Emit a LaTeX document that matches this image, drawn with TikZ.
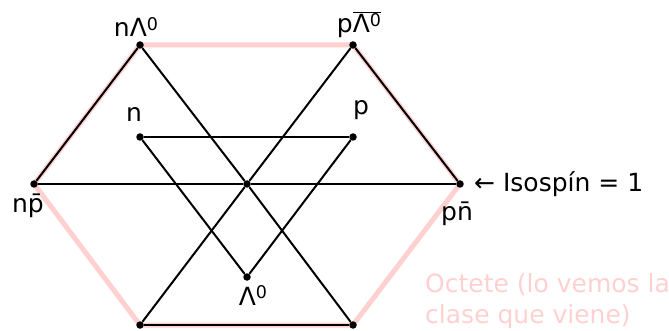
\documentclass[tikz,border=0pt]{standalone}
\usepackage{fontspec}
\setmainfont{DejaVu Sans}
\usepackage{xcolor}
\usepackage{tikz}
\usetikzlibrary{backgrounds}
\definecolor{octpink}{RGB}{255,208,208}
\tikzset{dot/.style={circle,fill=black,inner sep=0pt,minimum size=7.5pt},
  enlace/.style={black,line width=2pt},
  lbl/.style={inner sep=0pt,anchor=base}}
\newcommand{\supcero}{\raisebox{6.5pt}{\fontsize{17.5}{17.5}\selectfont 0}}

\begin{document}
\begin{tikzpicture}[x=1pt,y=1pt,yscale=-1,xscale=1]
    \fontsize{25}{31}\selectfont
    \useasboundingbox (0,0) rectangle (669,331);
    % puntos
    \node[dot] (nL) at (140,45) {};
    \node[dot] (pL) at (353,45) {};
    \node[dot] (np) at (34,184) {};
    \node[dot] (pn) at (460,184) {};
    \node[dot] (bl) at (140,325) {};
    \node[dot] (br) at (353,325) {};
    \node[dot] (c) at (247,184) {};
    \node[dot] (n) at (140,137) {};
    \node[dot] (p) at (353,137) {};
    \node[dot] (L) at (247,277) {};
    \begin{pgfonlayer}{background}
    % octete
    \draw [octpink, line width=5pt, line join=round] (nL.center) -- (pL.center) -- (pn.center) -- (br.center) -- (bl.center) -- (np.center) -- cycle;
    \draw [enlace] (nL) -- (np);
    \draw [enlace] (pL) -- (pn);
    \draw [enlace] (np) -- (c) -- (pn);
    \draw [enlace] (nL) -- (c) -- (br);
    \draw [enlace] (pL) -- (c) -- (bl);
    \draw [enlace] (bl) -- (br);
    \draw [enlace] (n) -- (p);
    \draw [enlace] (n) -- (L) -- (p);
    \end{pgfonlayer}
    % etiquetas
    \node[lbl] (tnL) at (136,37) {nΛ\supcero};
    \node[lbl] (tpL) at (359,33) {p$\overline{\hbox{Λ\supcero}}$};
    \node[lbl] (tn) at (134,122) {n};
    \node[lbl] (tp) at (361,115) {p};
    \node[lbl] (tnp) at (28,212) {np̄};
    \node[lbl] (tpn) at (457,220) {pn̄};
    \node[lbl] (tL) at (253,305) {Λ\supcero};
    \node[lbl, anchor=base west] (iso) at (474,192) {← Isospín = 1};
    \node[inner sep=0pt, anchor=north west, align=left, text=octpink] (oct) at (425,273) {Octete (lo vemos la\\clase que viene)};
\end{tikzpicture}
\end{document}
